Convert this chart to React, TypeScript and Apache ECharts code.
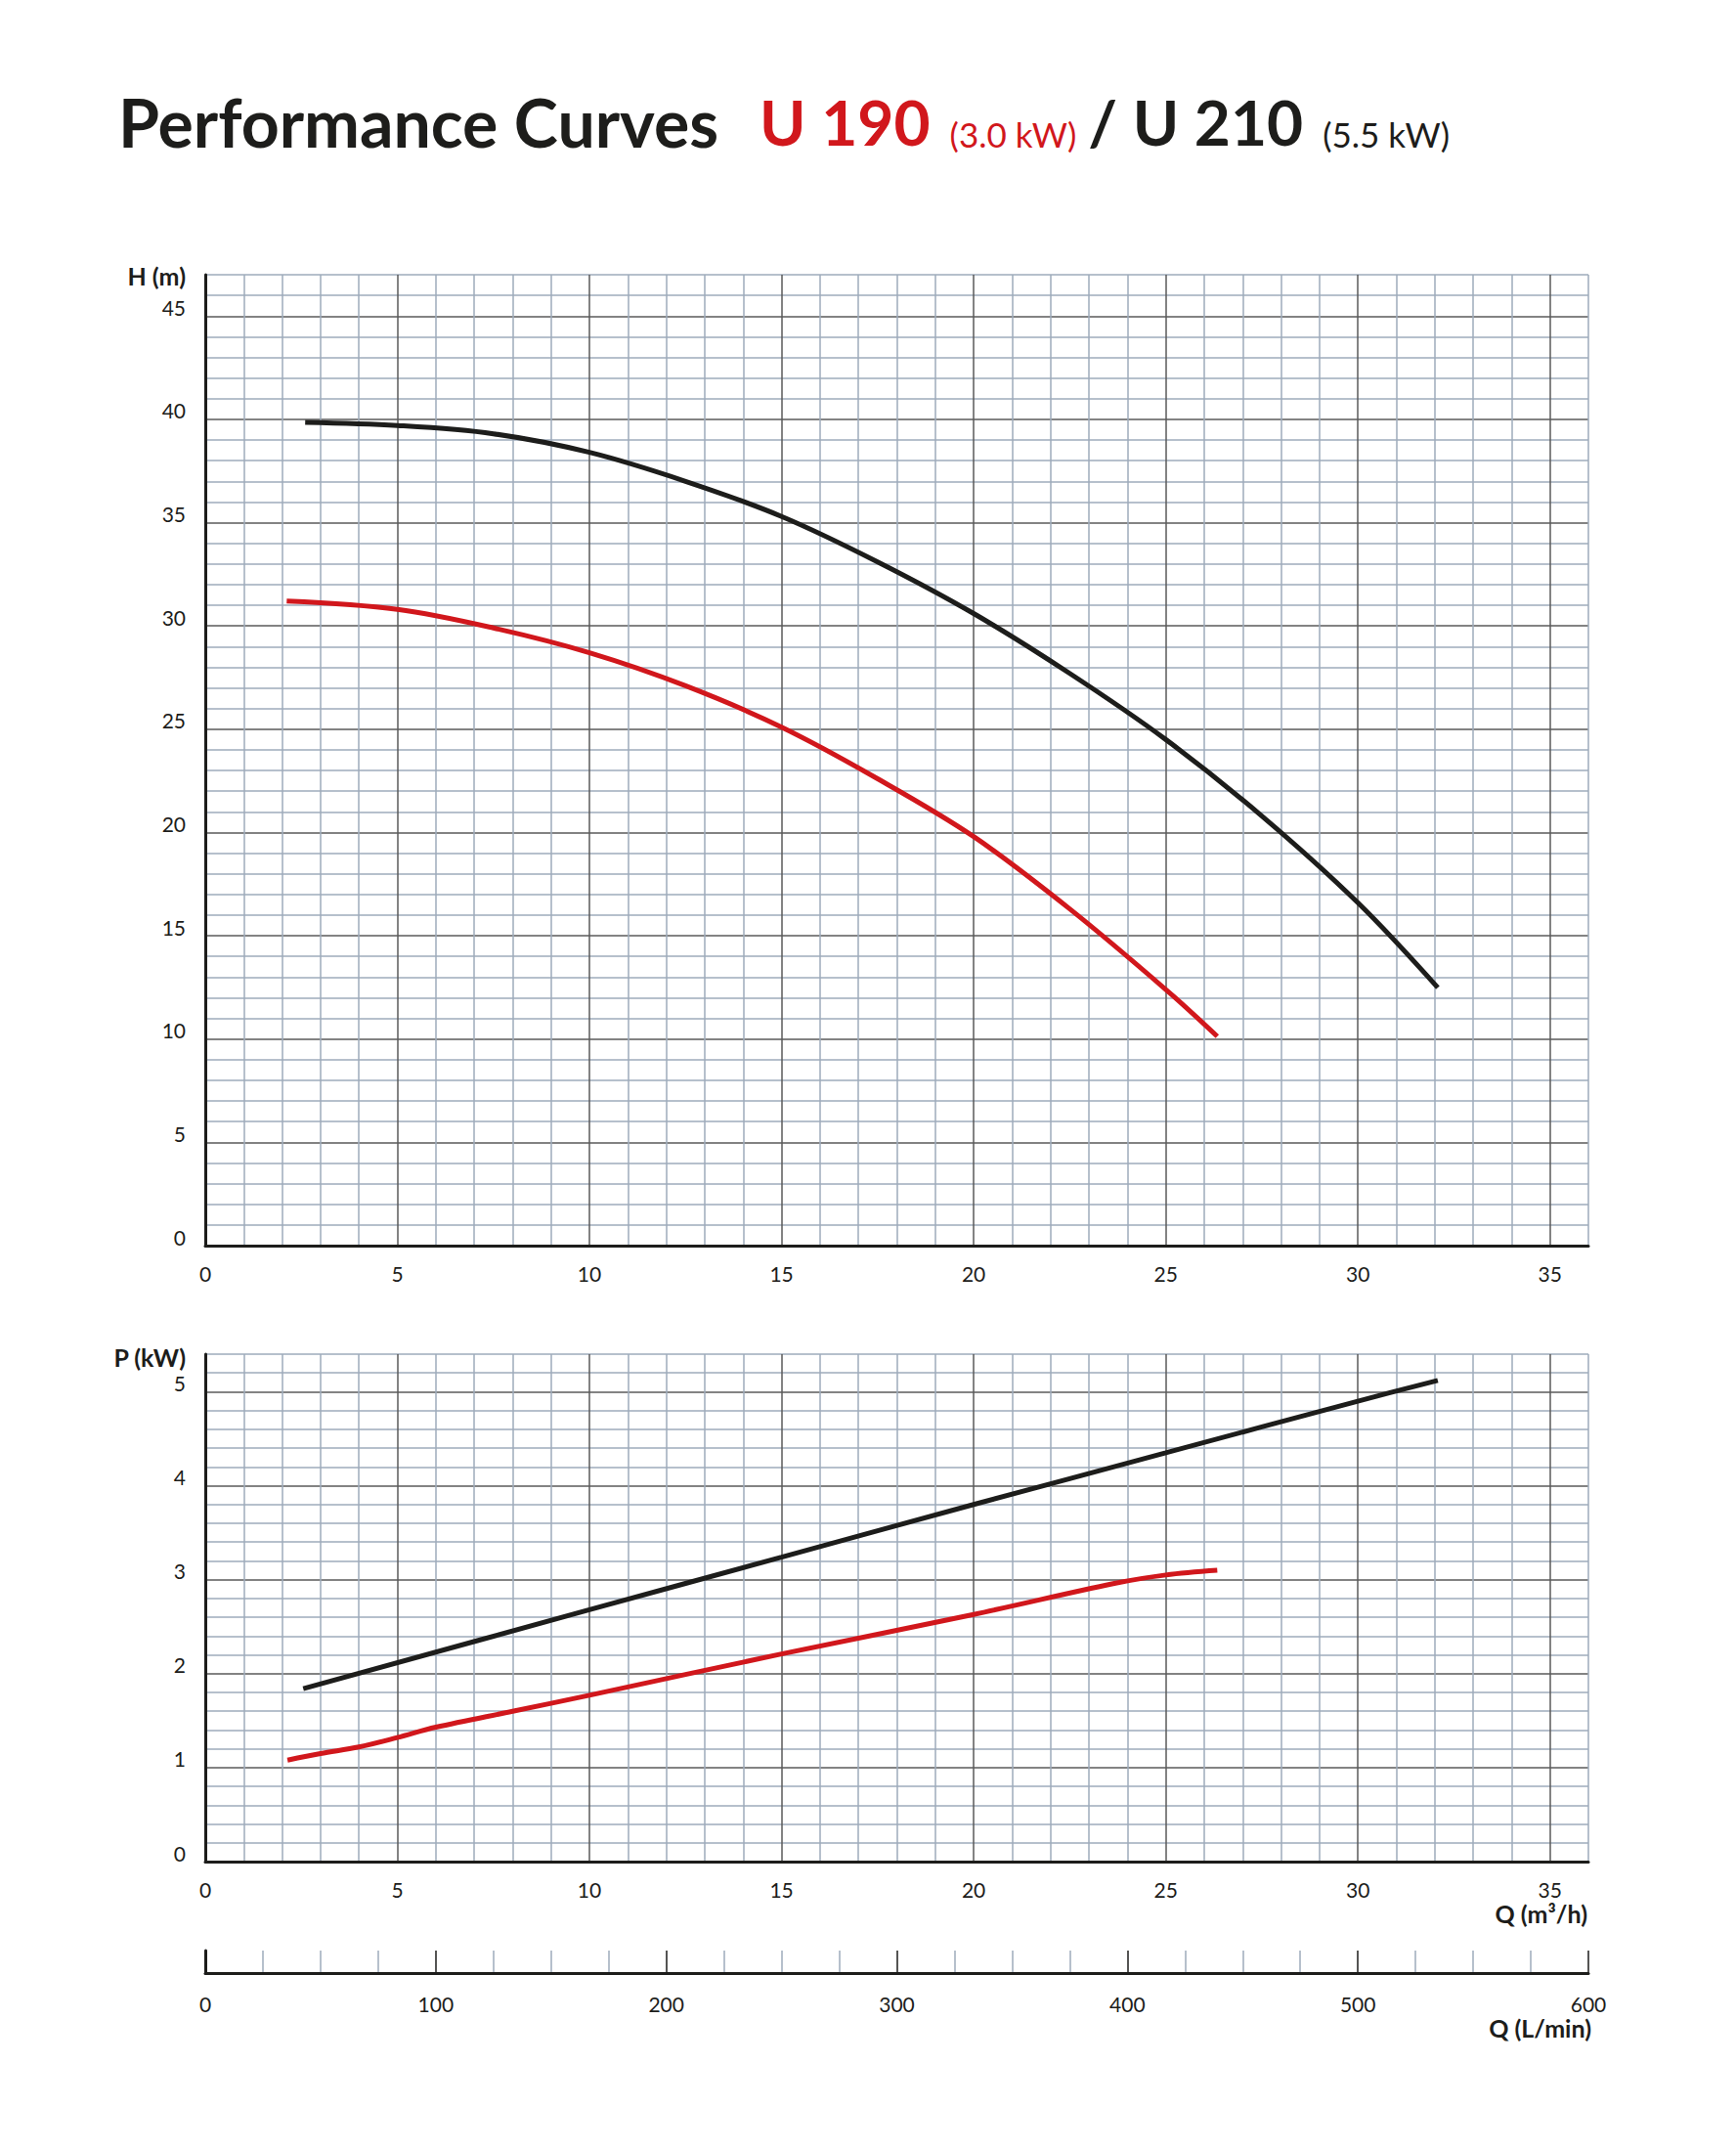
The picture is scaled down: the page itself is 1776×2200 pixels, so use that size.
import React, { useEffect, useRef } from "react";
import * as echarts from "echarts";

// ---- Data ----
// Head curves H (m) vs flow Q (m3/h)
const qHeadU210 = [2.6, 5, 7.5, 10, 12.5, 15, 17.5, 20, 22.5, 25, 27.5, 30, 32.08];
const hHeadU210 = [39.85, 39.7, 39.3, 38.4, 37.0, 35.3, 33.1, 30.6, 27.7, 24.5, 20.8, 16.6, 12.49];
const qHeadU190 = [2.12, 5, 7.5, 10, 12.5, 15, 17.5, 20, 22.5, 25, 26.34];
const hHeadU190 = [31.2, 30.8, 29.9, 28.7, 27.1, 25.1, 22.6, 19.8, 16.3, 12.4, 10.13];

// Power curves P (kW) vs flow Q (m3/h)
const qPowerU210 = [2.55, 10, 15, 20, 25, 30, 32.08];
const pPowerU210 = [1.84, 2.68, 3.24, 3.8, 4.35, 4.9, 5.12];
const qPowerU190 = [2.14, 3, 4, 5, 6, 8, 10, 15, 20, 23.66, 25, 26.34];
const pPowerU190 = [1.08, 1.15, 1.22, 1.32, 1.43, 1.6, 1.77, 2.21, 2.63, 2.96, 3.05, 3.1];

// Axis ranges / ticks
const qMax = 36; // m3/h
const hMax = 47; // m
const pMax = 5.4; // kW
const lminMax = 600; // L/min

const RED = "#d1171c";
const BLACK = "#1d1d1b";
const MAJOR = "#5a5a5a";
const MINOR = "#9eabbb";
const FONT = "Lato, 'Open Sans', sans-serif";

const zip = (a: number[], b: number[]) => a.map((v, i) => [v, b[i]]);

export default function App() {
  const ref = useRef<HTMLDivElement>(null);

  useEffect(() => {
    if (!ref.current) return;
    const chart = echarts.init(ref.current, undefined, { renderer: "svg" });

    const gridCols = [MAJOR, MINOR, MINOR, MINOR, MINOR];
    const labelStyle = { color: BLACK, fontSize: 21, fontFamily: FONT };

    const xGridAxis = (gridIndex: number) => ({
      type: "value",
      gridIndex,
      min: 0,
      max: qMax,
      interval: 1,
      axisLine: { show: true, onZero: false, lineStyle: { color: BLACK, width: 3 } },
      axisTick: { show: false },
      axisLabel: {
        ...labelStyle,
        margin: 18,
        formatter: (v: number) => (v % 5 === 0 ? String(v) : ""),
      },
      splitLine: { show: true, lineStyle: { color: gridCols, width: 1.5 } },
    });

    const yLabel = {
      ...labelStyle,
      margin: 20,
      verticalAlign: "bottom",
      lineHeight: 18,
    };

    const lineSeries = (name: string, axis: number, q: number[], v: number[], color: string) => ({
      type: "line",
      name,
      xAxisIndex: axis,
      yAxisIndex: axis,
      data: zip(q, v),
      smooth: 0.35,
      showSymbol: false,
      lineStyle: { color, width: 5 },
      z: 5,
    });

    const axisName = (text: string, x: number, y: number) => ({
      type: "text",
      x,
      y,
      style: {
        text,
        align: "right",
        verticalAlign: "middle",
        font: `bold 25px ${FONT}`,
        fill: BLACK,
      },
    });

    const option: any = {
      animation: false,
      backgroundColor: "#ffffff",
      title: {
        left: 121,
        top: 84,
        padding: 0,
        text:
          "{big|Performance Curves}{gap| }{red|U 190}{rs|(3.0 kW)}{mid|/ U 210}{bs|(5.5 kW)}",
        textStyle: {
          rich: {
            big: { fontFamily: FONT, fontWeight: 700, fontSize: 68, color: BLACK, lineHeight: 80 },
            mid: { fontFamily: FONT, fontWeight: 700, fontSize: 64, color: BLACK, lineHeight: 80 },
            gap: { fontFamily: FONT, fontSize: 68, width: 42, lineHeight: 80 },
            red: { fontFamily: FONT, fontWeight: 700, fontSize: 64, color: RED, lineHeight: 80 },
            rs: {
              fontFamily: FONT,
              fontWeight: 400,
              fontSize: 35,
              color: RED,
              lineHeight: 54,
              padding: [26, 12, 0, 20],
            },
            bs: {
              fontFamily: FONT,
              fontWeight: 400,
              fontSize: 35,
              color: BLACK,
              lineHeight: 54,
              padding: [26, 0, 0, 20],
            },
          },
        },
      },
      grid: [
        { left: 210, top: 281, width: 1415, height: 993 },
        { left: 210, top: 1385, width: 1415, height: 519 },
        { left: 210, top: 1995, width: 1415, height: 23 },
      ],
      xAxis: [
        xGridAxis(0),
        xGridAxis(1),
        {
          type: "value",
          gridIndex: 2,
          min: 0,
          max: lminMax,
          interval: 25,
          axisLine: { show: true, onZero: false, lineStyle: { color: BLACK, width: 3 } },
          axisTick: { show: false },
          axisLabel: {
            ...labelStyle,
            margin: 21,
            formatter: (v: number) => (v % 100 === 0 ? String(v) : ""),
          },
          splitLine: { show: true, lineStyle: { color: [BLACK, MINOR, MINOR, MINOR], width: 1.5 } },
        },
      ],
      yAxis: [
        {
          type: "value",
          gridIndex: 0,
          min: 0,
          max: hMax,
          interval: 1,
          axisLine: { show: true, onZero: false, lineStyle: { color: BLACK, width: 3 } },
          axisTick: { show: false },
          axisLabel: {
            ...yLabel,
            formatter: (v: number) => (v % 5 === 0 ? String(v) : ""),
          },
          splitLine: { show: true, lineStyle: { color: gridCols, width: 1.5 } },
        },
        {
          type: "value",
          gridIndex: 1,
          min: 0,
          max: pMax,
          interval: 0.2,
          axisLine: { show: true, onZero: false, lineStyle: { color: BLACK, width: 3 } },
          axisTick: { show: false },
          axisLabel: {
            ...yLabel,
            formatter: (v: number) =>
              Math.abs(v - Math.round(v)) < 1e-6 ? String(Math.round(v)) : "",
          },
          splitLine: { show: true, lineStyle: { color: gridCols, width: 1.5 } },
        },
        {
          type: "value",
          gridIndex: 2,
          min: 0,
          max: 1,
          axisLine: { show: true, onZero: false, lineStyle: { color: BLACK, width: 3 } },
          axisTick: { show: false },
          axisLabel: { show: false },
          splitLine: { show: false },
        },
      ],
      series: [
        lineSeries("U 210 H", 0, qHeadU210, hHeadU210, BLACK),
        lineSeries("U 190 H", 0, qHeadU190, hHeadU190, RED),
        lineSeries("U 210 P", 1, qPowerU210, pPowerU210, BLACK),
        lineSeries("U 190 P", 1, qPowerU190, pPowerU190, RED),
      ],
      graphic: [
        axisName("H (m)", 190, 282),
        axisName("P (kW)", 190, 1388),
        axisName("Q (m³/h)", 1624, 1957),
        axisName("Q (L/min)", 1628, 2074),
      ],
    };

    chart.setOption(option);
    return () => chart.dispose();
  }, []);

  return (
    <div
      ref={ref}
      style={{ position: "absolute", left: 0, top: 0, width: 1776, height: 2200, background: "#fff" }}
    />
  );
}
